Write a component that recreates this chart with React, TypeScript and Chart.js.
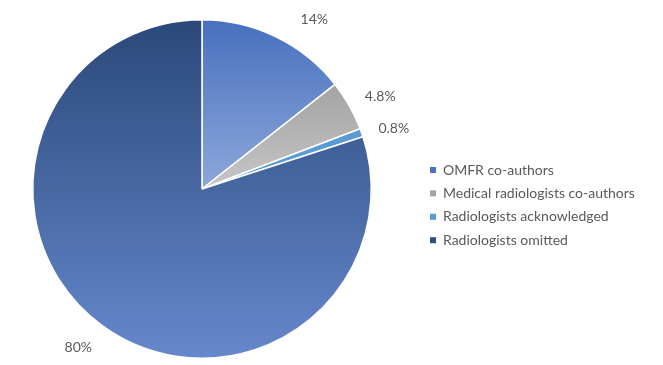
import React, { useEffect, useRef } from "react";
import { Chart, registerables } from "chart.js";

Chart.register(...registerables);

const categories = [
  "OMFR co-authors",
  "Medical radiologists co-authors",
  "Radiologists acknowledged",
  "Radiologists omitted",
];
const values = [14.4, 4.8, 0.8, 80];
const valueLabels = ["14%", "4.8%", "0.8%", "80%"];
const gradTop = ["#4670be", "#a3a3a3", "#5b9bd5", "#2a4879"];
const gradBottom = ["#8ea7da", "#c6c6c6", "#5b9bd5", "#6688cc"];
const legendColors = ["#4a72c0", "#a5a5a5", "#5b9bd5", "#2e4d85"];

const FONT = "Lato, 'Open Sans', sans-serif";
const TEXT = "#595959";

function geom(chart: any) {
  const ca = chart.chartArea;
  const cx = (ca.left + ca.right) / 2;
  const cy = (ca.top + ca.bottom) / 2;
  const r = Math.min(ca.right - ca.left, ca.bottom - ca.top) / 2;
  return { cx, cy, r };
}

function sliceAngles(i: number) {
  const total = values.reduce((a, b) => a + b, 0);
  let s = 0;
  for (let k = 0; k < i; k++) s += values[k];
  const a0 = (s / total) * 360;
  const a1 = ((s + values[i]) / total) * 360;
  return [a0, a1];
}

const labelPlugin = {
  id: "sliceLabels",
  afterDatasetsDraw(chart: any) {
    const { ctx } = chart;
    const { cx, cy, r } = geom(chart);
    const dist = r + 31;
    ctx.save();
    ctx.font = `14px ${FONT}`;
    ctx.fillStyle = TEXT;
    ctx.textAlign = "center";
    ctx.textBaseline = "middle";
    valueLabels.forEach((lab, i) => {
      const [a0, a1] = sliceAngles(i);
      const mid = (((a0 + a1) / 2) + 2) * Math.PI / 180;
      let x = cx + dist * Math.sin(mid);
      let y = cy - dist * Math.cos(mid);
      const minY = chart.chartArea.top;
      if (y < minY) {
        y = minY;
        const dy = cy - y;
        x = cx + Math.sqrt(Math.max(0, dist * dist - dy * dy)) * Math.sign(Math.sin(mid)) + 5;
      }
      ctx.fillText(lab, x, y);
    });
    ctx.restore();
  },
};

const legendPlugin = {
  id: "sideLegend",
  afterDraw(chart: any) {
    const { ctx } = chart;
    ctx.save();
    ctx.font = `14px ${FONT}`;
    ctx.textBaseline = "middle";
    ctx.textAlign = "left";
    const x0 = 430;
    const y0 = 170;
    const step = 23.4;
    categories.forEach((c, i) => {
      const y = y0 + i * step;
      ctx.fillStyle = legendColors[i];
      ctx.fillRect(x0, y - 3, 6, 6);
      ctx.fillStyle = TEXT;
      ctx.fillText(c, x0 + 13, y);
    });
    ctx.restore();
  },
};

export default function App() {
  const ref = useRef<HTMLCanvasElement | null>(null);
  useEffect(() => {
    if (!ref.current) return;
    const chart = new Chart(ref.current, {
      type: "pie",
      data: {
        labels: categories,
        datasets: [
          {
            data: values,
            backgroundColor: (context: any) => {
              const chart = context.chart;
              const i = context.dataIndex;
              if (!chart.chartArea || i === undefined) return gradTop[i ?? 0];
              const { cx, cy, r } = geom(chart);
              const [a0, a1] = sliceAngles(i);
              const ys = [cy, cy - r * Math.cos((a0 * Math.PI) / 180), cy - r * Math.cos((a1 * Math.PI) / 180)];
              if (a0 <= 0.001) ys.push(cy - r);
              if (a0 <= 180 && a1 >= 180) ys.push(cy + r);
              const yMin = Math.min(...ys);
              const yMax = Math.max(...ys);
              const g = chart.ctx.createLinearGradient(0, yMin, 0, yMax);
              g.addColorStop(0, gradTop[i]);
              g.addColorStop(1, gradBottom[i]);
              return g;
            },
            borderColor: "#ffffff",
            borderWidth: 1.5,
          },
        ],
      },
      options: {
        animation: false,
        responsive: false,
        maintainAspectRatio: false,
        layout: { padding: { left: 31, right: 290, top: 19, bottom: 6 } },
        plugins: {
          legend: { display: false },
          tooltip: { enabled: false },
        },
      },
      plugins: [labelPlugin, legendPlugin],
    });
    return () => chart.destroy();
  }, []);
  return (
    <div style={{ position: "absolute", left: 0, top: 0, width: 663, height: 365, background: "#fff" }}>
      <canvas ref={ref} width={663} height={365} />
    </div>
  );
}
